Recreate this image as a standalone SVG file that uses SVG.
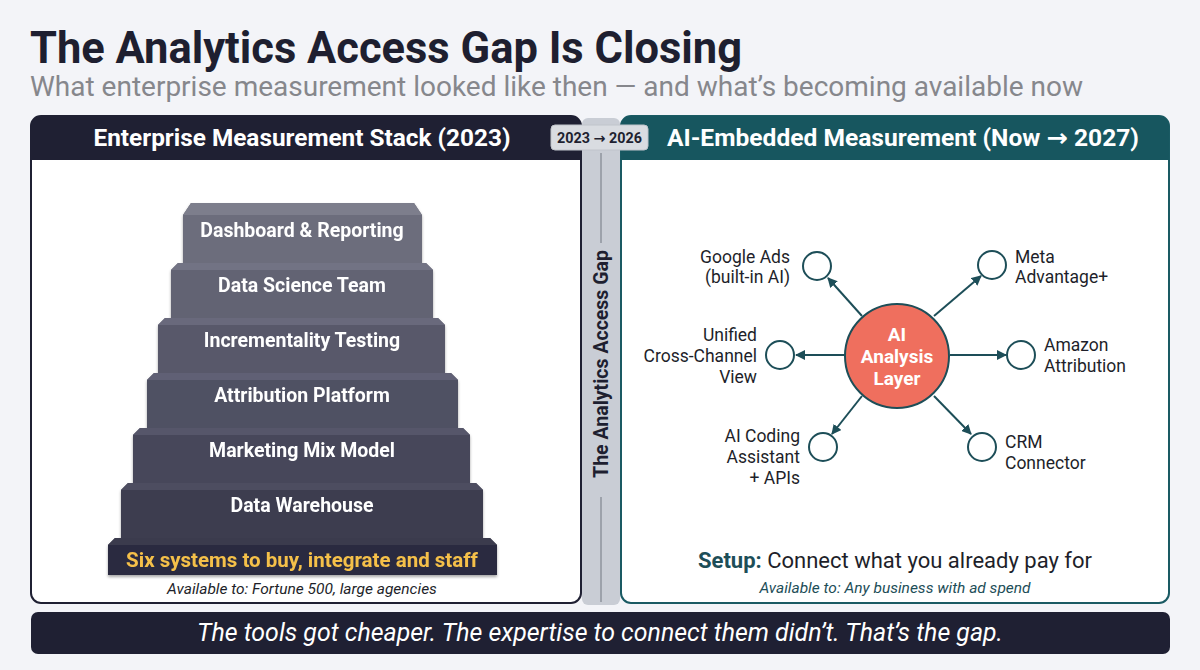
<svg xmlns="http://www.w3.org/2000/svg" width="1200" height="670" viewBox="0 0 1200 670">
<defs>
<style>
.f{font-family:Roboto,"Liberation Sans",sans-serif}
.ar{font-family:"DejaVu Sans",sans-serif;font-weight:700}
.step{font-family:Roboto,"Liberation Sans",sans-serif;font-weight:700;font-size:19.5px;fill:#ffffff;text-anchor:middle}
.lbl{font-family:Roboto,"Liberation Sans",sans-serif;font-size:17.5px;fill:#1e1f2a}
.sat{fill:#ffffff;stroke:#1d4e58;stroke-width:2}
.conn{stroke:#1d4e58;stroke-width:2;fill:none;marker-end:url(#ah)}
</style>
<marker id="ah" viewBox="0 0 10 10" refX="9" refY="5" markerWidth="5" markerHeight="5" orient="auto">
<path d="M0,0 L10,5 L0,10 z" fill="#1d4e58"/>
</marker>
<filter id="sh" x="-10%" y="-10%" width="120%" height="130%">
<feDropShadow dx="0" dy="2" stdDeviation="1.5" flood-color="#000" flood-opacity="0.35"/>
</filter>
</defs>
<rect width="1200" height="670" fill="#f3f4f8"/>
<g id="title">
<text class="f" x="30" y="63" font-size="44" font-weight="700" fill="#1e1f30" textLength="712" lengthAdjust="spacingAndGlyphs">The Analytics Access Gap Is Closing</text>
<text class="f" x="30" y="96" font-size="28" fill="#86878c" textLength="1053" lengthAdjust="spacingAndGlyphs">What enterprise measurement looked like then — and what’s becoming available now</text>
</g>
<g id="divider">
<rect x="582" y="118" width="38" height="487" rx="6" fill="#c9cdd5"/>
<line x1="601" y1="153" x2="601" y2="243" stroke="#8e939c" stroke-width="1.5"/>
<line x1="601" y1="497" x2="601" y2="602" stroke="#8e939c" stroke-width="1.5"/>
<text class="f" transform="translate(608,364) rotate(-90)" font-size="19.5" font-weight="700" fill="#1e1f30" text-anchor="middle">The Analytics Access Gap</text>
</g>
<g id="left-panel">
<rect x="31" y="116" width="550" height="487" rx="10" fill="#ffffff" stroke="#1f2033" stroke-width="2"/>
<path d="M31,160 V126 a10,10 0 0 1 10,-10 H571 a10,10 0 0 1 10,10 V160 z" fill="#1f2033"/>
<text class="f" x="302" y="146" font-size="23" font-weight="700" fill="#ffffff" text-anchor="middle" textLength="417" lengthAdjust="spacingAndGlyphs">Enterprise Measurement Stack (2023)</text>
</g>
<g id="right-panel">
<rect x="621" y="116" width="548" height="487" rx="10" fill="#ffffff" stroke="#1a5a63" stroke-width="2"/>
<path d="M621,160 V126 a10,10 0 0 1 10,-10 H1159 a10,10 0 0 1 10,10 V160 z" fill="#17565f"/>
<text class="f" x="903" y="146" font-size="23" font-weight="700" fill="#ffffff" text-anchor="middle" textLength="472" lengthAdjust="spacingAndGlyphs">AI-Embedded Measurement (Now <tspan class="ar" font-size="24">→</tspan> 2027)</text>
</g>
<g id="badge">
<rect x="551" y="125" width="97" height="25" rx="4" fill="#d9dce1" stroke="#c0c4cb" stroke-width="1"/>
<text class="f" x="599.5" y="143" font-size="14" font-weight="700" fill="#1e1f30" text-anchor="middle" textLength="85" lengthAdjust="spacingAndGlyphs">2023 <tspan class="ar" font-size="14">→</tspan> 2026</text>
</g>
<g id="stack" filter="url(#sh)">
<g id="step-base">
<path d="M115,538 H490 L497,545 V575 H108 V545 z" fill="#2b2c3f"/>
<path d="M115,538 H490 L497,545 H108 z" fill="#3a3b4e"/>
<text x="302" y="567" font-family="Roboto,'Liberation Sans',sans-serif" font-weight="700" font-size="20.5" fill="#f5c04a" text-anchor="middle">Six systems to buy, integrate and staff</text>
</g>
<g id="step-warehouse">
<path d="M128,483 H476 L483,490 V538 H121 V490 z" fill="#3d3e50"/>
<path d="M128,483 H476 L483,490 H121 z" fill="#4d4e60"/>
<text class="step" x="302" y="512">Data Warehouse</text>
</g>
<g id="step-mmm">
<path d="M140,428 H463 L470,435 V483 H133 V435 z" fill="#46475a"/>
<path d="M140,428 H463 L470,435 H133 z" fill="#56576a"/>
<text class="step" x="302" y="457">Marketing Mix Model</text>
</g>
<g id="step-attribution">
<path d="M154,373 H451 L458,380 V428 H147 V380 z" fill="#505163"/>
<path d="M154,373 H451 L458,380 H147 z" fill="#606174"/>
<text class="step" x="302" y="402">Attribution Platform</text>
</g>
<g id="step-incrementality">
<path d="M165,318 H438 L445,325 V373 H158 V325 z" fill="#59596b"/>
<path d="M165,318 H438 L445,325 H158 z" fill="#69697c"/>
<text class="step" x="302" y="347">Incrementality Testing</text>
</g>
<g id="step-datascience">
<path d="M178,263 H426 L433,270 V318 H171 V270 z" fill="#626373"/>
<path d="M178,263 H426 L433,270 H171 z" fill="#727384"/>
<text class="step" x="302" y="292">Data Science Team</text>
</g>
<g id="step-dashboard">
<path d="M191,203 H414 L422,215 V263 H183 V215 z" fill="#6c6d7b"/>
<path d="M191,203 H414 L422,215 H183 z" fill="#7d7e8c"/>
<text class="step" x="302" y="237">Dashboard &amp; Reporting</text>
</g>
</g>
<text class="f" x="302" y="594" font-size="15.5" font-style="italic" fill="#1e1f2a" text-anchor="middle">Available to: Fortune 500, large agencies</text>
<g id="connectors">
<line class="conn" x1="862" y1="316" x2="828" y2="278"/>
<line class="conn" x1="934" y1="316" x2="981" y2="276"/>
<line class="conn" x1="845" y1="355" x2="796" y2="355"/>
<line class="conn" x1="950" y1="355" x2="1006" y2="355"/>
<line class="conn" x1="862" y1="396" x2="832" y2="434"/>
<line class="conn" x1="934" y1="396" x2="971" y2="434"/>
</g>
<g id="hub">
<circle cx="897" cy="356" r="52" fill="#ef6f5e" stroke="#1d4e58" stroke-width="2"/>
<text class="f" x="897" y="341" font-size="19" font-weight="700" fill="#ffffff" text-anchor="middle">AI</text>
<text class="f" x="897" y="363" font-size="19" font-weight="700" fill="#ffffff" text-anchor="middle">Analysis</text>
<text class="f" x="897" y="385" font-size="19" font-weight="700" fill="#ffffff" text-anchor="middle">Layer</text>
</g>
<g id="node-google">
<circle class="sat" cx="817" cy="266" r="14"/>
<text class="lbl" x="790" y="263" text-anchor="end">Google Ads</text>
<text class="lbl" x="790" y="283" text-anchor="end">(built-in AI)</text>
</g>
<g id="node-meta">
<circle class="sat" cx="992" cy="265" r="14"/>
<text class="lbl" x="1015" y="263">Meta</text>
<text class="lbl" x="1015" y="283">Advantage+</text>
</g>
<g id="node-unified">
<circle class="sat" cx="780" cy="355" r="14"/>
<text class="lbl" x="757" y="341" text-anchor="end">Unified</text>
<text class="lbl" x="757" y="362" text-anchor="end">Cross-Channel</text>
<text class="lbl" x="757" y="383" text-anchor="end">View</text>
</g>
<g id="node-amazon">
<circle class="sat" cx="1021" cy="355" r="14"/>
<text class="lbl" x="1044" y="351">Amazon</text>
<text class="lbl" x="1044" y="372">Attribution</text>
</g>
<g id="node-coding">
<circle class="sat" cx="823" cy="447" r="14"/>
<text class="lbl" x="800" y="442" text-anchor="end">AI Coding</text>
<text class="lbl" x="800" y="463" text-anchor="end">Assistant</text>
<text class="lbl" x="800" y="484" text-anchor="end">+ APIs</text>
</g>
<g id="node-crm">
<circle class="sat" cx="982" cy="447" r="14"/>
<text class="lbl" x="1005" y="448">CRM</text>
<text class="lbl" x="1005" y="469">Connector</text>
</g>
<g id="setup">
<text class="f" x="895" y="568" font-size="22" fill="#1e1f2a" text-anchor="middle"><tspan font-weight="700" fill="#1d4e58">Setup:</tspan> Connect what you already pay for</text>
<text class="f" x="895" y="593" font-size="15.5" font-style="italic" fill="#1d4e58" text-anchor="middle">Available to: Any business with ad spend</text>
</g>
<g id="banner">
<rect x="31" y="612" width="1139" height="42" rx="7" fill="#1f2033"/>
<text class="f" x="600" y="641" font-size="25" font-style="italic" fill="#ffffff" text-anchor="middle" textLength="806" lengthAdjust="spacingAndGlyphs">The tools got cheaper. The expertise to connect them didn’t. That’s the gap.</text>
</g>
</svg>
